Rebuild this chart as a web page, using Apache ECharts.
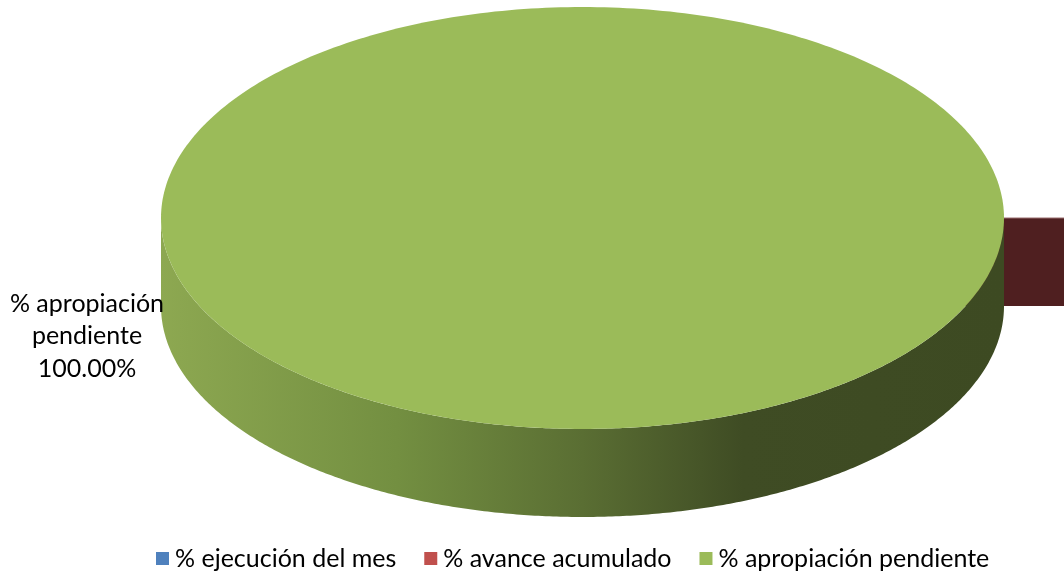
<!DOCTYPE html>
<html>
<head>
<meta charset="utf-8">
<script src="https://cdn.jsdelivr.net/npm/echarts@6/dist/echarts.min.js"></script>
<style>
  html, body { margin: 0; padding: 0; background: #fff; }
  #chart { width: 1064px; height: 573px; }
</style>
</head>
<body>
<div id="chart"></div>
<script>
// Share of the budget, in percent, per category
const categories = ['% ejecución del mes', '% avance acumulado', '% apropiación pendiente'];
const values = [0, 0, 100];
const labelTexts = ['', '', '% apropiación\npendiente\n100.00%'];

const topColors = ['#4F81BD', '#C0504D', '#9BBB59'];
const faceColors = ['#2B4566', '#4F1F20', '#3E4B23'];

// Pie geometry (elliptical top face + extruded rim)
const CX = 582.5, CY = 218, RX = 421.5, RY = 211, DEPTH = 88;
const EXPLODE = [0, 110, 0];
const FONT = 'Lato, "Noto Sans", sans-serif';

const total = values.reduce((a, b) => a + b, 0);
const startAngles = [];
(function () {
  let acc = 0;
  values.forEach(v => { startAngles.push(acc / total * Math.PI * 2); acc += v; });
})();

function rim(t, dx, dy) {
  return [CX + dx + RX * Math.cos(t), CY + dy + RY * Math.sin(t)];
}

function sideGradient() {
  return {
    type: 'linear', x: CX - RX, y: 0, x2: CX + RX, y2: 0, global: true,
    colorStops: [
      { offset: 0, color: '#8DA851' },
      { offset: 0.28, color: '#738F41' },
      { offset: 0.5, color: '#5A6E33' },
      { offset: 0.69, color: '#3F4C24' },
      { offset: 1, color: '#3D4A22' }
    ]
  };
}

function renderSlice(idx) {
  return function (params, api) {
    const v = values[idx];
    const a0 = startAngles[idx];
    const a1 = a0 + v / total * Math.PI * 2;
    const mid = (a0 + a1) / 2;
    const ex = EXPLODE[idx] * Math.cos(mid);
    const ey = EXPLODE[idx] * Math.sin(mid) * RY / RX;
    const children = [];

    if (v === 0) {
      // zero-width slice: only its radial cut face is drawn
      const p = rim(a0, ex, ey);
      const c = [CX + ex, CY + ey];
      children.push({
        type: 'polygon',
        shape: { points: [c, p, [p[0], p[1] + DEPTH], [c[0], c[1] + DEPTH]] },
        style: { fill: faceColors[idx] }
      });
      children.push({
        type: 'line',
        shape: { x1: c[0], y1: c[1], x2: p[0], y2: p[1] },
        style: { stroke: '#9A6F6F', lineWidth: 1 }
      });
      return { type: 'group', children: children };
    }

    const steps = 360;
    // front rim, the part with sin(t) >= 0
    const s = Math.max(a0, 0), e = Math.min(a1, Math.PI);
    if (e > s) {
      const pts = [];
      for (let i = 0; i <= steps; i++) {
        const t = s + (e - s) * i / steps;
        pts.push(rim(t, ex, ey));
      }
      for (let i = steps; i >= 0; i--) {
        const t = s + (e - s) * i / steps;
        const q = rim(t, ex, ey);
        pts.push([q[0], q[1] + DEPTH]);
      }
      children.push({ type: 'polygon', shape: { points: pts }, style: { fill: sideGradient() } });
    }

    // top face
    const top = [];
    if (a1 - a0 < Math.PI * 2 - 1e-6) top.push([CX + ex, CY + ey]);
    for (let i = 0; i <= steps; i++) {
      top.push(rim(a0 + (a1 - a0) * i / steps, ex, ey));
    }
    children.push({ type: 'polygon', shape: { points: top }, style: { fill: topColors[idx] } });

    if (labelTexts[idx]) {
      children.push({
        type: 'text',
        x: CX + ex + Math.cos(mid) * (RX + 74),
        y: CY + ey + 118,
        style: {
          text: labelTexts[idx],
          fill: '#000',
          font: '25px ' + FONT,
          lineHeight: 32.5,
          align: 'center',
          verticalAlign: 'middle'
        }
      });
    }
    return { type: 'group', children: children };
  };
}

const chart = echarts.init(document.getElementById('chart'), null, { renderer: 'canvas' });
chart.setOption({
  animation: false,
  color: topColors,
  legend: {
    data: categories,
    left: 151,
    top: 541,
    itemWidth: 13,
    itemHeight: 13,
    itemGap: 28,
    icon: 'rect',
    textStyle: { fontSize: 25, fontFamily: FONT, color: '#000', padding: [0, 0, 0, 1] }
  },
  series: categories.map((name, i) => ({
    type: 'custom',
    name: name,
    coordinateSystem: 'none',
    z: values[i] === 0 ? 1 : 2,
    itemStyle: { color: topColors[i] },
    renderItem: renderSlice(i),
    data: [values[i]]
  }))
});
</script>
</body>
</html>
